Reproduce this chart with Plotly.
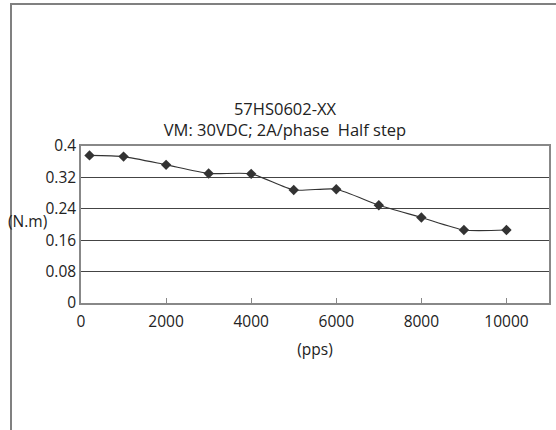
import plotly.graph_objects as go

speed_pps = [200, 1000, 2000, 3000, 4000, 5000, 6000, 7000, 8000, 9000, 10000]
torque_nm = [0.376, 0.373, 0.352, 0.330, 0.329, 0.288, 0.290, 0.249, 0.218, 0.186, 0.186]

x_ticks = [0, 2000, 4000, 6000, 8000, 10000]
y_ticks = [0, 0.08, 0.16, 0.24, 0.32, 0.4]
y_tick_text = ["0", "0.08", "0.16", "0.24", "0.32", "0.4"]

FONT = "Open Sans"
FS = 15.5
W, H = 556, 430
ML, MR, MT, MB = 81, 7, 146, 127
pw = W - ML - MR
ph = H - MT - MB

def px_x(px):
    return (px - ML) / pw

def px_y(py):
    return (H - MB - py) / ph

fig = go.Figure()
fig.add_trace(go.Scatter(
    x=speed_pps, y=torque_nm, mode="lines+markers",
    line=dict(color="#333333", width=1.1, shape="spline", smoothing=0.6),
    marker=dict(symbol="diamond", size=8, color="#333333"),
    showlegend=False, hoverinfo="x+y",
))

fig.update_layout(
    width=W, height=H,
    margin=dict(l=ML, r=MR, t=MT, b=MB, autoexpand=False),
    paper_bgcolor="white", plot_bgcolor="white",
    font=dict(family=FONT, size=FS, color="#222222"),
    title=dict(
        text="57HS0602-XX<br>VM: 30VDC; 2A/phase&nbsp; Half step",
        x=285 / W, xanchor="center", xref="container",
        y=1 - 115 / H, yanchor="top", yref="container",
        font=dict(family=FONT, size=16.5, color="#222222"),
    ),
    xaxis=dict(
        range=[0, 11000], tickvals=x_ticks, ticktext=[str(v) for v in x_ticks],
        showgrid=False, zeroline=False, automargin=False,
        showline=True, linecolor="#888888", linewidth=1.5, mirror=True,
        ticks="inside", ticklen=5, tickcolor="#888888", tickwidth=1.2,
        ticklabelstandoff=4,
        tickfont=dict(family=FONT, size=FS, color="#222222"),
        title=dict(text="(pps)", standoff=13, font=dict(family=FONT, size=FS, color="#222222")),
        fixedrange=True,
    ),
    yaxis=dict(
        range=[0, 0.4], tickvals=y_ticks, ticktext=y_tick_text,
        showgrid=True, gridcolor="#444444", gridwidth=1.3,
        zeroline=False, automargin=False,
        showline=True, linecolor="#888888", linewidth=1.5, mirror=True,
        ticks="", tickfont=dict(family=FONT, size=FS, color="#222222"),
        fixedrange=True,
    ),
    annotations=[dict(
        text="(N.m)", xref="paper", yref="paper",
        x=px_x(6), y=px_y(221), xanchor="left", yanchor="middle",
        showarrow=False, font=dict(family=FONT, size=FS, color="#222222"),
    )],
    shapes=[
        dict(type="line", xref="paper", yref="paper",
             x0=px_x(11), x1=px_x(11), y0=px_y(3), y1=px_y(H + 5),
             line=dict(color="#808080", width=2)),
        dict(type="line", xref="paper", yref="paper",
             x0=px_x(10), x1=px_x(W + 5), y0=px_y(4), y1=px_y(4),
             line=dict(color="#808080", width=2)),
    ],
)

fig.write_html("out.html", config={"displayModeBar": False},
               post_script="document.body.style.margin='0';")
